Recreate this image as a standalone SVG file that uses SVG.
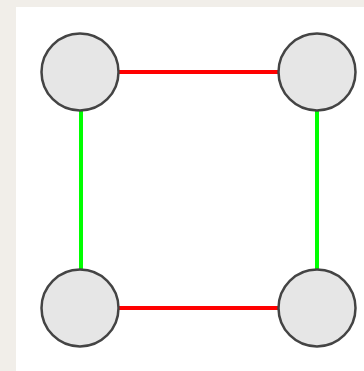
<svg xmlns="http://www.w3.org/2000/svg" width="364" height="371" viewBox="0 0 364 371">
  <style>
    .node { fill: #e6e6e6; stroke: #444444; stroke-width: 2.5; }
    .edge-h { stroke: #ff0000; stroke-width: 4; }
    .edge-v { stroke: #00ff00; stroke-width: 4; }
  </style>
  <!-- page background and white canvas -->
  <rect x="0" y="0" width="364" height="371" fill="#f1eee9"/>
  <rect x="16" y="7" width="348" height="364" fill="#ffffff"/>
  <g id="connectors">
    <line class="edge-h" x1="80" y1="72" x2="317" y2="72"/>
    <line class="edge-h" x1="80" y1="308" x2="317" y2="308"/>
    <line class="edge-v" x1="81" y1="72" x2="81" y2="308"/>
    <line class="edge-v" x1="317" y1="72" x2="317" y2="308"/>
  </g>
  <g id="node-top-left"><circle class="node" cx="80" cy="72" r="38.5"/></g>
  <g id="node-top-right"><circle class="node" cx="317" cy="72" r="38.5"/></g>
  <g id="node-bottom-left"><circle class="node" cx="80" cy="308" r="38.5"/></g>
  <g id="node-bottom-right"><circle class="node" cx="317" cy="308" r="38.5"/></g>
</svg>
